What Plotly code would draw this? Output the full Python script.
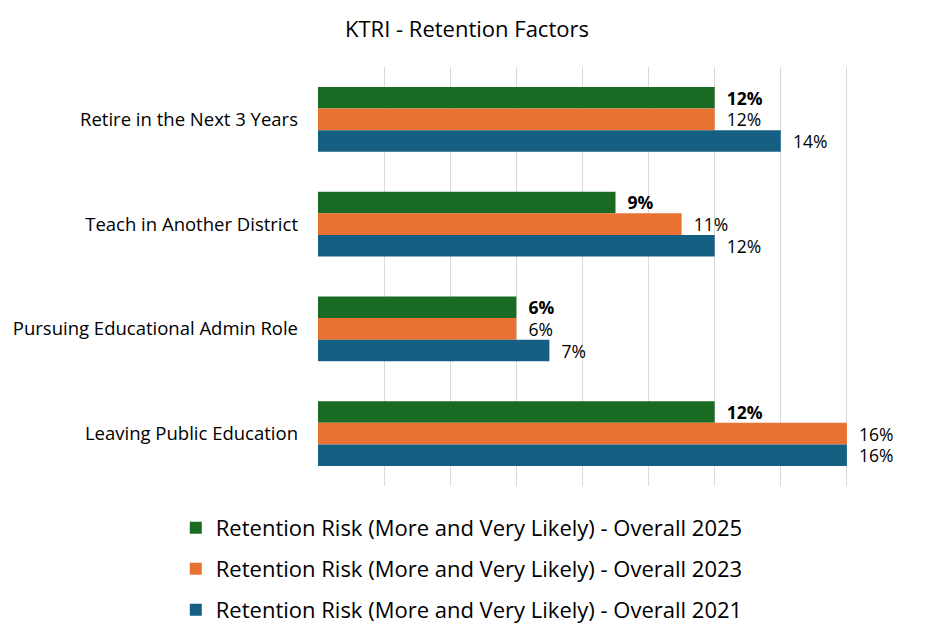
import plotly.graph_objects as go

categories = ["Retire in the Next 3 Years", "Teach in Another District",
              "Pursuing Educational Admin Role", "Leaving Public Education"]
series_names = ["Retention Risk (More and Very Likely) - Overall 2025",
                "Retention Risk (More and Very Likely) - Overall 2023",
                "Retention Risk (More and Very Likely) - Overall 2021"]
values_2025 = [12, 9, 6, 12]
values_2023 = [12, 11, 6, 16]
values_2021 = [14, 12, 7, 16]
colors = ["#196B24", "#E97132", "#156082"]
bold = [True, False, False]

FONT = "Open Sans, Liberation Sans, Arial, sans-serif"
W, H = 925, 629  # page body has an 8px margin
PLOT_H = 419
legend_centers = [42, 83, 124]  # px below plot bottom, one legend per series
legend_ids = ["legend", "legend2", "legend3"]

fig = go.Figure()
for i, (name, vals) in enumerate(zip(series_names, [values_2025, values_2023, values_2021])):
    tmpl = "\u00a0\u00a0<b>%{x}%</b>" if bold[i] else "\u00a0\u00a0%{x}%"
    fig.add_trace(go.Bar(
        y=categories, x=vals, name=name, orientation="h",
        marker=dict(color=colors[i], line=dict(width=0)),
        texttemplate=tmpl, textposition="outside", cliponaxis=False,
        constraintext="none",
        textfont=dict(family=FONT, size=17.5, color="#000000"),
        legend=legend_ids[i], hoverinfo="skip",
    ))

legend_common = dict(orientation="v", x=-0.239, xanchor="left", yanchor="middle",
                     font=dict(family=FONT, size=22, color="#000000"),
                     itemwidth=30, bgcolor="rgba(0,0,0,0)")

fig.update_layout(
    width=W, height=H,
    margin=dict(l=310, r=20, t=59, b=151, autoexpand=False),
    paper_bgcolor="white", plot_bgcolor="white",
    barmode="group", bargap=0.38, bargroupgap=0,
    title=dict(text="KTRI - Retention Factors", x=459 / W, xref="container", xanchor="center",
               y=1 - 21 / H, yref="container", yanchor="middle",
               font=dict(family=FONT, size=22, color="#000000")),
    showlegend=True,
    legend=dict(y=-legend_centers[0] / PLOT_H, **legend_common),
    legend2=dict(y=-legend_centers[1] / PLOT_H, **legend_common),
    legend3=dict(y=-legend_centers[2] / PLOT_H, **legend_common),
    font=dict(family=FONT),
)
fig.update_xaxes(range=[0, 18], dtick=2, showticklabels=False, showgrid=True,
                 gridcolor="#D9D9D9", gridwidth=1, zeroline=False, showline=False,
                 automargin=False)
fig.update_yaxes(autorange="reversed", showgrid=False, showline=False, ticks="",
                 ticklabelstandoff=19, automargin=False,
                 tickfont=dict(family=FONT, size=18.5, color="#000000"))

fig.write_html("out.html")
